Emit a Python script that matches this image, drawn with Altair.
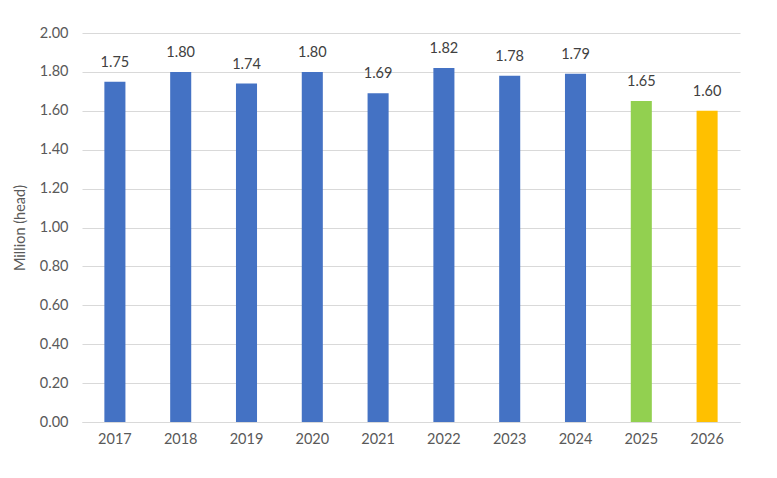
import altair as alt
import pandas as pd

years = ["2017", "2018", "2019", "2020", "2021", "2022", "2023", "2024", "2025", "2026"]
values = [1.75, 1.80, 1.74, 1.80, 1.69, 1.82, 1.78, 1.79, 1.65, 1.60]
colors = ["#4472C4"] * 8 + ["#92D050", "#FFC000"]

df = pd.DataFrame({"year": years, "value": values, "color": colors})

FONT = "Lato"
FS = 14.5

base = alt.Chart(df).encode(
    x=alt.X("year:N", sort=years, title=None,
            scale=alt.Scale(paddingInner=0.68, paddingOuter=0.34),
            axis=alt.Axis(labelAngle=0, ticks=False, domain=True, domainColor="#D9D9D9",
                          labelFontSize=FS, labelColor="#595959", labelFont=FONT, labelPadding=10)),
    y=alt.Y("value:Q", title="Million (head)",
            scale=alt.Scale(domain=[0, 2.0], nice=False),
            axis=alt.Axis(values=[0, 0.2, 0.4, 0.6, 0.8, 1.0, 1.2, 1.4, 1.6, 1.8, 2.0], format=".2f",
                          ticks=False, domain=False, gridColor="#D9D9D9",
                          labelFontSize=FS, labelColor="#595959", labelFont=FONT, labelPadding=14,
                          titleFontSize=FS, titleColor="#595959", titleFont=FONT,
                          titleFontWeight="normal", titlePadding=12)),
)

bars = base.mark_bar().encode(color=alt.Color("color:N", scale=None))
labels = base.mark_text(dy=-19, fontSize=FS, color="#404040", font=FONT).encode(
    text=alt.Text("value:Q", format=".2f"))

chart = (bars + labels).properties(
    width=658, height=389,
    autosize=alt.AutoSizeParams(type="none"),
    padding={"left": 74, "top": 25, "right": 20, "bottom": 40},
).configure_view(stroke=None)

chart.save("out.html", embed_options={"renderer": "svg", "actions": False})
